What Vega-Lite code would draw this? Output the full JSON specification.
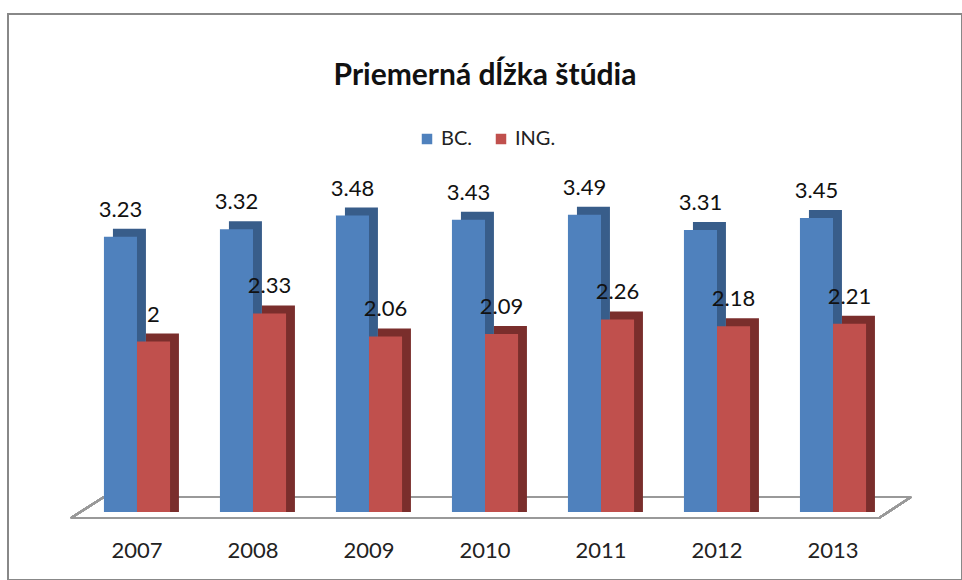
{
  "$schema": "https://vega.github.io/schema/vega-lite/v6.json",
  "autosize": "none",
  "width": 954,
  "height": 566,
  "padding": {"left": 8, "top": 14, "right": 0, "bottom": 0},
  "background": "white",
  "title": {"text": "Priemerná dĺžka štúdia", "font": "Lato", "fontSize": 30, "fontWeight": "bold", "color": "#111", "anchor": "middle", "frame": "group", "offset": -77},
  "config": {"view": {"stroke": "#888", "strokeWidth": 2}, "font": "Lato"},
  "data": {"values": [
    {"year": "2007", "series": "BC.", "value": 3.23},
    {"year": "2007", "series": "ING.", "value": 2},
    {"year": "2008", "series": "BC.", "value": 3.32},
    {"year": "2008", "series": "ING.", "value": 2.33},
    {"year": "2009", "series": "BC.", "value": 3.48},
    {"year": "2009", "series": "ING.", "value": 2.06},
    {"year": "2010", "series": "BC.", "value": 3.43},
    {"year": "2010", "series": "ING.", "value": 2.09},
    {"year": "2011", "series": "BC.", "value": 3.49},
    {"year": "2011", "series": "ING.", "value": 2.26},
    {"year": "2012", "series": "BC.", "value": 3.31},
    {"year": "2012", "series": "ING.", "value": 2.18},
    {"year": "2013", "series": "BC.", "value": 3.45},
    {"year": "2013", "series": "ING.", "value": 2.21}
  ]},
  "encoding": {
    "x": {"field": "year", "type": "nominal", "scale": {"paddingInner": 0.43, "paddingOuter": 0.827}, "axis": {"title": null, "domain": false, "ticks": false, "labelAngle": 0, "labelFontSize": 22, "labelColor": "#222", "labelPadding": -40, "labelFont": "Lato"}},
    "y": {"field": "value", "type": "quantitative", "scale": {"domain": [-0.798, 5.845], "zero": false, "nice": false}, "axis": null}
  },
  "layer": [
    {
      "mark": {"type": "rule", "color": "#999", "strokeWidth": 2, "xOffset": -33, "x2Offset": 13},
      "encoding": {"x": {"datum": "2007", "bandPosition": 0}, "x2": {"datum": "2013", "bandPosition": 1}, "y": {"datum": -0.07}}
    },
    {
      "mark": {"type": "rule", "color": "#999", "strokeWidth": 2, "xOffset": 0, "x2Offset": 45},
      "encoding": {"x": {"datum": "2007", "bandPosition": 0}, "x2": {"datum": "2013", "bandPosition": 1}, "y": {"datum": 0.176}}
    },
    {
      "mark": {"type": "rule", "color": "#999", "strokeWidth": 2, "xOffset": -33, "x2Offset": 0},
      "encoding": {"x": {"datum": "2007", "bandPosition": 0}, "x2": {"datum": "2007", "bandPosition": 0}, "y": {"datum": -0.07}, "y2": {"datum": 0.176}}
    },
    {
      "mark": {"type": "rule", "color": "#999", "strokeWidth": 2, "xOffset": 13, "x2Offset": 45},
      "encoding": {"x": {"datum": "2013", "bandPosition": 1}, "x2": {"datum": "2013", "bandPosition": 1}, "y": {"datum": -0.07}, "y2": {"datum": 0.176}}
    },
    {
      "mark": {"type": "bar", "yOffset": -8},
      "encoding": {
        "xOffset": {"field": "series", "type": "nominal", "scale": {"paddingInner": 0, "paddingOuter": 0, "range": [9, 75]}},
        "y2": {"datum": 0},
        "color": {"field": "series", "type": "nominal", "scale": {"domain": ["BC.", "ING."], "range": ["#385D8A", "#7A2E2C"]}, "legend": null}
      }
    },
    {
      "mark": {"type": "bar"},
      "encoding": {
        "xOffset": {"field": "series", "type": "nominal", "scale": {"paddingInner": 0, "paddingOuter": 0}},
        "y2": {"datum": 0},
        "color": {"field": "series", "type": "nominal", "scale": {"domain": ["BC.", "ING."], "range": ["#4F81BD", "#C0504D"]}, "legend": {"title": null, "orient": "none", "legendX": 409, "legendY": 115, "direction": "horizontal", "symbolType": "square", "symbolSize": 110, "symbolStrokeWidth": 0, "labelFontSize": 20, "labelFont": "Lato", "labelColor": "#222", "columnPadding": 18}}
      }
    },
    {
      "mark": {"type": "text", "fontSize": 22, "font": "Lato", "color": "#111", "dy": -27, "baseline": "middle"},
      "encoding": {
        "xOffset": {"field": "series", "type": "nominal", "scale": {"paddingOuter": 0, "range": [16.5, 49.5]}},
        "text": {"field": "value", "type": "quantitative"}
      }
    }
  ],
  "resolve": {"scale": {"color": "independent", "xOffset": "independent"}}
}
